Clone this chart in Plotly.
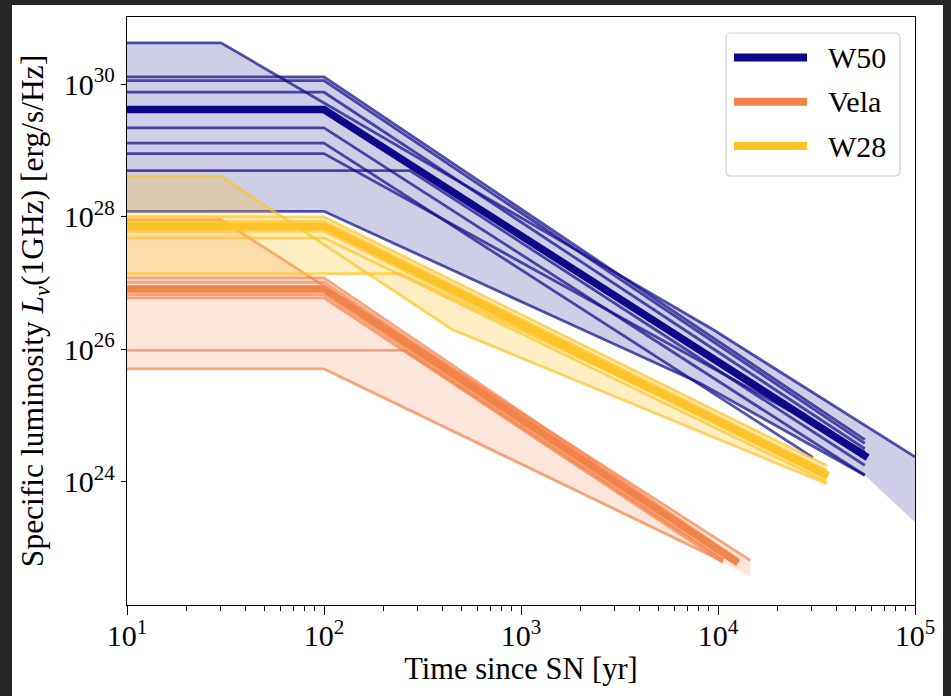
import plotly.graph_objects as go

# ---------------- data (time in yr, luminosity as log10 L_nu [erg/s/Hz]) ----------------
W50_thin_t = [
    [10, 30, 9420, 100000],
    [10, 100, 55600],
    [10, 100, 55600],
    [10, 100, 55600],
    [10, 100, 55600],
    [10, 100, 30300],
    [10, 100, 55600],
    [10, 273, 55600],
    [10, 100, 1250, 8110, 55600],
]
W50_thin_logL = [
    [30.63, 30.63, 26.30, 24.376],
    [30.116, 30.116, 24.637],
    [30.06, 30.06, 24.58],
    [29.884, 29.884, 24.50],
    [29.346, 29.346, 24.10],
    [29.116, 29.116, 24.37],
    [28.958, 28.958, 24.45],
    [28.701, 28.701, 24.25],
    [28.086, 28.086, 26.59, 25.49, 24.10],
]
W50_main_t = [10, 100, 57500]
W50_main_logL = [29.622, 29.622, 24.366]
W50_upper_t = [10, 30, 59.3, 100, 3160, 9420, 100000]
W50_upper_logL = [30.63, 30.63, 30.116, 30.116, 27.12, 26.30, 24.376]
W50_lower_t = [10, 100, 1250, 8110, 55600, 100000]
W50_lower_logL = [28.086, 28.086, 26.59, 25.49, 24.10, 23.39]

Vela_thin_t = [
    [10, 30, 14600],
    [10, 100, 12650],
    [10, 100, 12650],
    [10, 100, 10600],
    [10, 100, 10600],
    [10, 257, 10600],
    [10, 100, 10600],
]
Vela_thin_logL = [
    [27.961, 27.961, 22.814],
    [27.08, 27.08, 22.83],
    [27.014, 27.014, 22.80],
    [26.828, 26.828, 22.83],
    [26.778, 26.778, 22.78],
    [25.986, 25.986, 22.82],
    [25.705, 25.705, 22.80],
]
Vela_main_t = [10, 100, 12650]
Vela_main_logL = [26.914, 26.914, 22.775]
Vela_upper_t = [10, 30, 86.5, 100, 1290, 14600]
Vela_upper_logL = [27.961, 27.961, 27.08, 27.08, 24.835, 22.814]
Vela_lower_t = [10, 100, 14600]
Vela_lower_logL = [25.705, 25.705, 22.57]

W28_thin_t = [
    [10, 30, 447, 35600],
    [10, 100, 35600],
    [10, 100, 35600],
    [10, 100, 35600],
    [10, 100, 35600],
    [10, 245, 35600],
]
W28_thin_logL = [
    [28.615, 28.615, 26.30, 23.97],
    [28.0, 28.0, 24.245],
    [27.935, 27.935, 24.17],
    [27.784, 27.784, 24.05],
    [27.684, 27.684, 24.0],
    [27.145, 27.145, 24.12],
]
W28_main_t = [10, 100, 36300]
W28_main_logL = [27.86, 27.86, 24.094]
W28_upper_t = [10, 30, 61.5, 100, 35600]
W28_upper_logL = [28.615, 28.615, 28.0, 28.0, 24.245]
W28_lower_t = [10, 166, 447, 35600]
W28_lower_logL = [27.145, 27.145, 26.30, 23.97]

names = ["W50", "Vela", "W28"]
x_tick_vals = [10, 100, 1000, 10000, 100000]
x_tick_text = ["10<sup>1</sup>", "10<sup>2</sup>", "10<sup>3</sup>", "10<sup>4</sup>", "10<sup>5</sup>"]
y_tick_vals = [1e24, 1e26, 1e28, 1e30]
y_tick_text = ["10<sup>24</sup>", "10<sup>26</sup>", "10<sup>28</sup>", "10<sup>30</sup>"]
x_minor_vals = [m * 10 ** k for k in range(1, 5) for m in range(2, 10)]

# ---------------- styling ----------------
rgb = {"W50": (13, 8, 135), "Vela": (242, 132, 75), "W28": (253, 195, 40)}
fill_alpha = {"W50": 0.2, "Vela": 0.2, "W28": 0.28}
FONT = "Liberation Serif"

def rgba(c, a):
    return f"rgba({c[0]},{c[1]},{c[2]},{a})"

def pw(v):
    return [10 ** e for e in v]

sources = {
    "W50": (W50_thin_t, W50_thin_logL, W50_main_t, W50_main_logL,
            W50_upper_t, W50_upper_logL, W50_lower_t, W50_lower_logL),
    "Vela": (Vela_thin_t, Vela_thin_logL, Vela_main_t, Vela_main_logL,
             Vela_upper_t, Vela_upper_logL, Vela_lower_t, Vela_lower_logL),
    "W28": (W28_thin_t, W28_thin_logL, W28_main_t, W28_main_logL,
            W28_upper_t, W28_upper_logL, W28_lower_t, W28_lower_logL),
}

fig = go.Figure()
for nm in names:
    tt, ll, mt, ml, ut, ul, lt, lL = sources[nm]
    c = rgb[nm]
    fig.add_trace(go.Scatter(
        x=ut + lt[::-1], y=pw(ul + lL[::-1]), mode="lines", fill="toself",
        fillcolor=rgba(c, fill_alpha[nm]), line=dict(width=0),
        hoverinfo="skip", showlegend=False))
    for t, l in zip(tt, ll):
        fig.add_trace(go.Scatter(
            x=t, y=pw(l), mode="lines", line=dict(color=rgba(c, 0.7), width=2.8),
            hoverinfo="skip", showlegend=False))
    fig.add_trace(go.Scatter(
        x=mt, y=pw(ml), mode="lines", line=dict(color=rgba(c, 1), width=7.5),
        name=nm, showlegend=False))

# pixel geometry helpers
L_M, R_M, T_M, B_M = 127, 36, 17, 91
W, H = 951, 696
PW, PH = W - L_M - R_M, H - T_M - B_M

def xp(px):
    return (px - L_M) / PW

def yp(py):
    return (H - B_M - py) / PH

shapes = []
dark = "#262626"
for (x0, y0, x1, y1) in [(0, 0, 12, 696), (0, 0, 951, 5), (943, 0, 951, 696)]:
    shapes.append(dict(type="rect", xref="paper", yref="paper",
                       x0=xp(x0), x1=xp(x1), y0=yp(y1), y1=yp(y0),
                       fillcolor=dark, line=dict(width=0), layer="above"))

# legend box (rounded)
bx0, bx1, by0, by1, r = 726, 900, 33, 176, 5
def P(px, py):
    return f"{xp(px):.5f},{yp(py):.5f}"
path = (f"M {P(bx0 + r, by0)} L {P(bx1 - r, by0)} Q {P(bx1, by0)} {P(bx1, by0 + r)} "
        f"L {P(bx1, by1 - r)} Q {P(bx1, by1)} {P(bx1 - r, by1)} "
        f"L {P(bx0 + r, by1)} Q {P(bx0, by1)} {P(bx0, by1 - r)} "
        f"L {P(bx0, by0 + r)} Q {P(bx0, by0)} {P(bx0 + r, by0)} Z")
shapes.append(dict(type="path", xref="paper", yref="paper", path=path,
                   fillcolor="rgba(255,255,255,0.85)", line=dict(color="#d0d0d0", width=1.2),
                   layer="above"))
annotations = []
for i, nm in enumerate(names):
    ly = 57.5 + i * 44.3
    shapes.append(dict(type="line", xref="paper", yref="paper",
                       x0=xp(734), x1=xp(807), y0=yp(ly), y1=yp(ly),
                       line=dict(color=rgba(rgb[nm], 1), width=8), layer="above"))
    annotations.append(dict(xref="paper", yref="paper", x=xp(826), y=yp(ly),
                            xanchor="left", yanchor="middle", text=nm, showarrow=False,
                            font=dict(family=FONT, size=30, color="black")))

axis_common = dict(
    type="log", showgrid=False, zeroline=False, showline=True, linecolor="black",
    linewidth=1.3, mirror=True, ticks="outside", tickcolor="black", tickwidth=1.2,
    tickfont=dict(family=FONT, size=30, color="black"),
)
fig.update_layout(
    width=W, height=H,
    margin=dict(l=L_M, r=R_M, t=T_M, b=B_M, autoexpand=False),
    paper_bgcolor="white", plot_bgcolor="white",
    showlegend=False,
    shapes=shapes, annotations=annotations,
    xaxis=dict(axis_common, range=[1, 5], tickvals=x_tick_vals, ticktext=x_tick_text,
               ticklen=9, ticklabelstandoff=-5,
               minor=dict(ticks="outside", ticklen=5, tickwidth=1, tickcolor="black",
                          tickvals=x_minor_vals, showgrid=False),
               title=dict(text="Time since SN [yr]", standoff=2,
                          font=dict(family=FONT, size=30.5, color="black"))),
    yaxis=dict(axis_common, range=[22.14, 31.02], tickvals=y_tick_vals, ticktext=y_tick_text,
               ticklen=5,
               title=dict(text="Specific luminosity <i>L</i><sub><i>ν</i></sub>(1GHz) [erg/s/Hz]",
                          standoff=10, font=dict(family=FONT, size=31.5, color="black"))),
)

fig.write_html("out.html", config={"displayModeBar": False},
               post_script="document.body.style.margin='0px';document.body.style.background='#262626';")
